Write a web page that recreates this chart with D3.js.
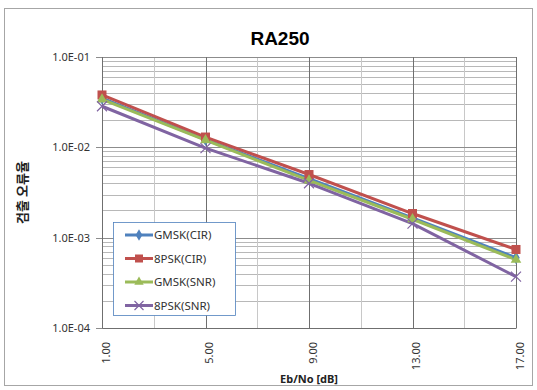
<!DOCTYPE html>
<html>
<head>
<meta charset="utf-8">
<script src="https://cdn.jsdelivr.net/npm/d3@7"></script>
<style>
  body { margin: 0; background: #fff; }
  text { font-family: "Noto Sans", "Noto Sans CJK KR", sans-serif; }
</style>
</head>
<body>
<div id="chart"></div>
<script>
// data
var categories = ["1.00", "5.00", "9.00", "13.00", "17.00"];
var gmskCir = [0.035, 0.0122, 0.0045, 0.00166, 0.00060];
var psk8Cir = [0.038, 0.0130, 0.0050, 0.00185, 0.00074];
var gmskSnr = [0.034, 0.0120, 0.0043, 0.00160, 0.00057];
var psk8Snr = [0.0285, 0.0098, 0.0040, 0.00143, 0.00037];
var yTicks = [1e-1, 1e-2, 1e-3, 1e-4];

var series = [
  {name: "GMSK(CIR)", values: gmskCir, color: "#4f81bd", marker: "diamond"},
  {name: "8PSK(CIR)", values: psk8Cir, color: "#c0504d", marker: "square"},
  {name: "GMSK(SNR)", values: gmskSnr, color: "#9bbb59", marker: "triangle"},
  {name: "8PSK(SNR)", values: psk8Snr, color: "#8064a2", marker: "x"}
];

var W = 537, H = 390;
var margin = {top: 57, right: 21, bottom: 62, left: 102};
var width = W - margin.left - margin.right,
    height = H - margin.top - margin.bottom;

var root = d3.select("#chart").append("svg")
  .attr("width", W).attr("height", H);

// chart frame
root.append("rect")
  .attr("x", 4.5).attr("y", 8.5).attr("width", 528).attr("height", 377)
  .attr("fill", "#fff").attr("stroke", "#a6a6a6");

var svg = root.append("g")
  .attr("transform", "translate(" + margin.left + "," + margin.top + ")");

var x = d3.scalePoint().domain(categories).range([0, width]);
var y = d3.scaleLog().domain([1e-4, 1e-1]).range([height, 0]);

// minor horizontal grid
var minor = [];
[1e-4, 1e-3, 1e-2].forEach(function(d) {
  for (var k = 2; k <= 9; k++) minor.push(d * k);
});
svg.selectAll(".hminor").data(minor).enter().append("line")
  .attr("x1", 0).attr("x2", width)
  .attr("y1", function(d) { return Math.round(y(d)) + 0.5; })
  .attr("y2", function(d) { return Math.round(y(d)) + 0.5; })
  .attr("stroke", "#b8b8b8").attr("stroke-width", 1);

// minor vertical grid (between categories)
var mids = [];
for (var i = 0; i < categories.length - 1; i++) {
  mids.push((x(categories[i]) + x(categories[i + 1])) / 2);
}
svg.selectAll(".vminor").data(mids).enter().append("line")
  .attr("x1", function(d) { return Math.round(d) + 0.5; })
  .attr("x2", function(d) { return Math.round(d) + 0.5; })
  .attr("y1", 0).attr("y2", height)
  .attr("stroke", "#c8c8c8");

// major grid
svg.selectAll(".hmajor").data(yTicks).enter().append("line")
  .attr("x1", -6).attr("x2", width)
  .attr("y1", function(d) { return Math.round(y(d)) + 0.5; })
  .attr("y2", function(d) { return Math.round(y(d)) + 0.5; })
  .attr("stroke", "#8c8c8c");

svg.selectAll(".vmajor").data(categories).enter().append("line")
  .attr("x1", function(d) { return Math.round(x(d)) + 0.5; })
  .attr("x2", function(d) { return Math.round(x(d)) + 0.5; })
  .attr("y1", 0).attr("y2", height)
  .attr("stroke", "#6f6f6f");

// axes
var yAxis = svg.append("g")
  .call(d3.axisLeft(y).tickValues(yTicks).tickSize(0).tickPadding(12)
    .tickFormat(function(d) { return d.toExponential(1).replace("e-", "E-0").toUpperCase(); }));
yAxis.select(".domain").remove();
yAxis.selectAll("text").attr("font-size", "11px").attr("fill", "#333");

var xAxis = svg.append("g")
  .attr("transform", "translate(0," + height + ")")
  .call(d3.axisBottom(x).tickSize(0));
xAxis.select(".domain").attr("stroke", "#6f6f6f");
xAxis.selectAll("text")
  .attr("transform", "translate(4,14)rotate(-90)")
  .attr("dy", "0")
  .style("text-anchor", "end")
  .attr("font-size", "11px").attr("fill", "#333");

// titles
root.append("text")
  .attr("x", 280).attr("y", 45)
  .attr("text-anchor", "middle")
  .style("font-family", "Liberation Sans, Arial, sans-serif")
  .style("font-weight", "bold").style("font-size", "19px")
  .text("RA250");

root.append("text")
  .attr("x", margin.left + width / 2).attr("y", 383)
  .attr("text-anchor", "middle")
  .style("font-weight", "bold").style("font-size", "11px").attr("fill", "#222")
  .text("Eb/No [dB]");

root.append("text")
  .attr("transform", "translate(27," + (margin.top + height / 2) + ")rotate(-90)")
  .attr("text-anchor", "middle")
  .style("font-family", "Noto Sans CJK KR, sans-serif")
  .style("font-weight", "bold").style("font-size", "13px").attr("fill", "#222")
  .text("검출 오류율");

// markers
function drawMarker(g, type, color, size) {
  if (type === "square") {
    g.append("rect").attr("x", -size / 2).attr("y", -size / 2)
      .attr("width", size).attr("height", size).attr("fill", color);
  } else if (type === "diamond") {
    g.append("path").attr("d", d3.symbol().type(d3.symbolDiamond).size(size * size * 0.6)())
      .attr("fill", color);
  } else if (type === "triangle") {
    g.append("path").attr("d", d3.symbol().type(d3.symbolTriangle).size(size * size * 0.6)())
      .attr("fill", color);
  } else {
    var s = size / 2;
    g.append("path").attr("d", "M" + (-s) + "," + (-s) + "L" + s + "," + s + "M" + (-s) + "," + s + "L" + s + "," + (-s))
      .attr("stroke", color).attr("stroke-width", 1.2).attr("fill", "none");
  }
}

var line = d3.line()
  .x(function(d, i) { return x(categories[i]); })
  .y(function(d) { return y(d); });

series.forEach(function(s) {
  svg.append("path")
    .datum(s.values)
    .attr("d", line)
    .attr("fill", "none")
    .attr("stroke", s.color)
    .attr("stroke-width", 3)
    .attr("stroke-linejoin", "round");
});

series.forEach(function(s) {
  s.values.forEach(function(v, i) {
    var g = svg.append("g")
      .attr("transform", "translate(" + x(categories[i]) + "," + y(v) + ")");
    drawMarker(g, s.marker, s.color, s.marker === "x" ? 10 : 9);
  });
});

// legend
var legend = root.append("g").attr("transform", "translate(113,222)");
legend.append("rect")
  .attr("x", 0.5).attr("y", 0.5).attr("width", 122).attr("height", 93)
  .attr("fill", "#fff").attr("stroke", "#4f81bd").attr("stroke-width", 0.8);

series.forEach(function(s, i) {
  var row = legend.append("g").attr("transform", "translate(0," + (13 + i * 23.5) + ")");
  row.append("line").attr("x1", 12).attr("x2", 40).attr("y1", 0).attr("y2", 0)
    .attr("stroke", s.color).attr("stroke-width", 3);
  var m = row.append("g").attr("transform", "translate(26,0)");
  drawMarker(m, s.marker, s.color, s.marker === "x" ? 9 : 8);
  row.append("text").attr("x", 41).attr("y", 4)
    .attr("font-size", "11.5px").attr("fill", "#333")
    .text(s.name);
});
</script>
</body>
</html>
